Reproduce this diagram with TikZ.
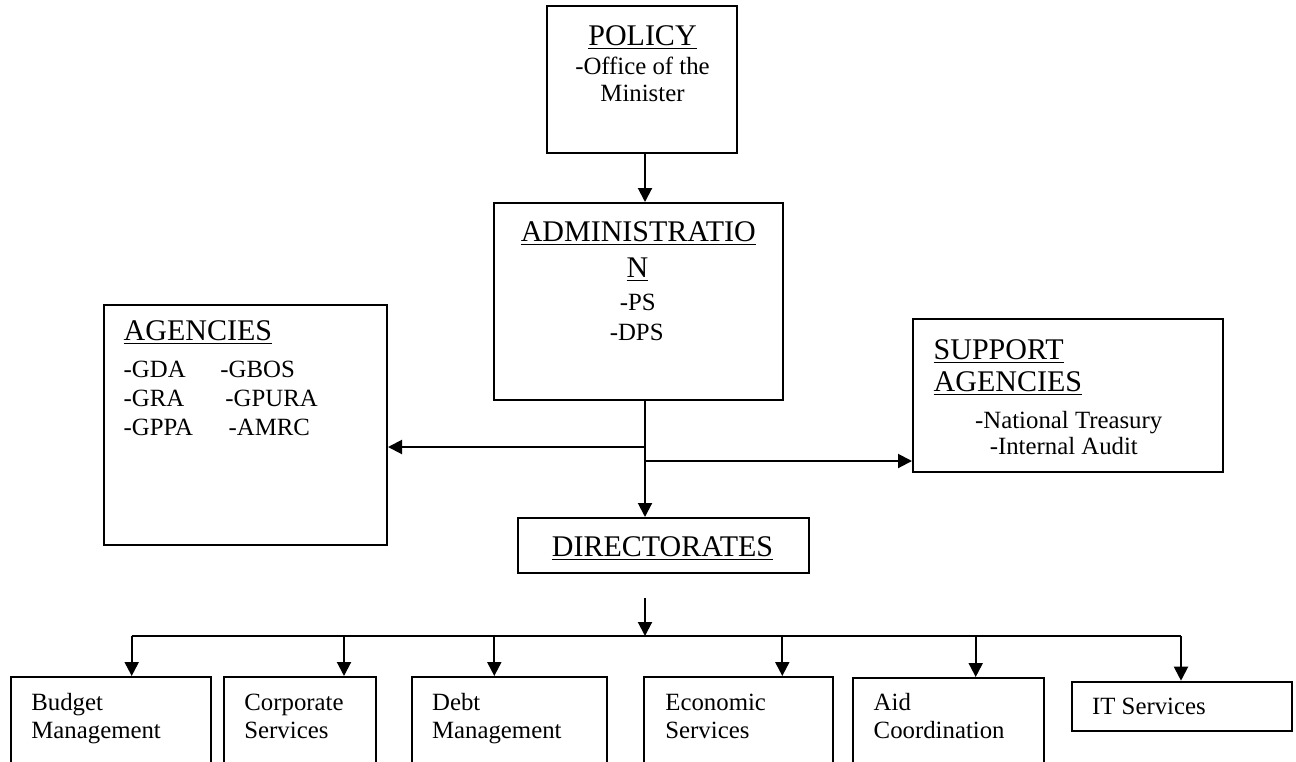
\documentclass[tikz,border=0pt]{standalone}
\usepackage{fontspec}
\setmainfont{Liberation Serif}
\usetikzlibrary{arrows.meta,fit}
\tikzset{
  box/.style={draw, line width=1pt, inner sep=0pt},
  conn/.style={line width=1pt},
  arr/.style={conn, -{Triangle[width=7pt,length=7pt]}},
  body/.style={inner sep=0pt, font=\fontsize{12.4}{14}\selectfont},
  head/.style={inner sep=0pt, font=\fontsize{15}{17}\selectfont},
}
\begin{document}
\begin{tikzpicture}[x=0.5pt,y=-0.5pt]
\useasboundingbox (0,0) rectangle (1296,761);
\clip (0,0) rectangle (1296,761);

% boxes
\node[box, fit={(547,6) (737,153)}] (policy) {};
\node[box, fit={(494,203) (783,400)}] (admin) {};
\node[box, fit={(104,305) (387,545)}] (agencies) {};
\node[box, fit={(913,319) (1223,471.5)}] (support) {};
\node[box, fit={(518,518) (809,573.3)}] (direct) {};
\node[box, fit={(11,677) (211,790)}] (budget) {};
\node[box, fit={(224,677) (376,790)}] (corp) {};
\node[box, fit={(412,677) (607,790)}] (debt) {};
\node[box, fit={(644,677) (833,790)}] (econ) {};
\node[box, fit={(853,678) (1044,790)}] (aid) {};
\node[box, fit={(1072,681.7) (1291.5,730.7)}] (it) {};

% texts
\node[head, anchor=base] (policyH) at (642.5,45) {\underline{POLICY}};
\node[body, anchor=base] (policyT1) at (642.5,74) {-Office of the};
\node[body, anchor=base] (policyT2) at (642.5,101.7) {Minister};

\node[head, anchor=base] (adminH1) at (638.3,241.7) {\underline{ADMINISTRATIO}};
\node[head, anchor=base] (adminH2) at (637.5,277.3) {\underline{N}};
\node[body, anchor=base] (adminT1) at (637.7,310.7) {-PS};
\node[body, anchor=base] (adminT2) at (636.7,340) {-DPS};

\node[head, anchor=base west] (agH) at (123.3,340.7) {\underline{AGENCIES}};
\node[body, anchor=base west] (ag1) at (123.3,377.3) {-GDA};
\node[body, anchor=base west] (ag2) at (220,377.3) {-GBOS};
\node[body, anchor=base west] (ag3) at (123.3,406) {-GRA};
\node[body, anchor=base west] (ag4) at (225,406) {-GPURA};
\node[body, anchor=base west] (ag5) at (123.3,435) {-GPPA};
\node[body, anchor=base west] (ag6) at (228.3,435) {-AMRC};

\node[head, anchor=base west] (supH1) at (933.3,359.3) {\underline{SUPPORT}};
\node[head, anchor=base west] (supH2) at (933.3,391.7) {\underline{AGENCIES}};
\node[body, anchor=base] (sup1) at (1068.7,428.3) {-National Treasury};
\node[body, anchor=base] (sup2) at (1063.8,454) {-Internal Audit};

\node[head, anchor=base] (dirH) at (662.5,556) {\underline{DIRECTORATES}};

\node[body, anchor=base west] (bud1) at (31,710) {Budget};
\node[body, anchor=base west] (bud2) at (31,738) {Management};
\node[body, anchor=base west] (cor1) at (244,710) {Corporate};
\node[body, anchor=base west] (cor2) at (244,738) {Services};
\node[body, anchor=base west] (deb1) at (431.7,710) {Debt};
\node[body, anchor=base west] (deb2) at (431.7,738) {Management};
\node[body, anchor=base west] (eco1) at (665,710) {Economic};
\node[body, anchor=base west] (eco2) at (665,738) {Services};
\node[body, anchor=base west] (aid1) at (873.3,710) {Aid};
\node[body, anchor=base west] (aid2) at (873.3,738) {Coordination};
\node[body, anchor=base west] (itT) at (1091.7,714) {IT Services};

% connector coordinates
\coordinate (cx) at (645,0);
\coordinate (jl) at (645,447);
\coordinate (jr) at (645,461);
\coordinate (dtop) at (645,598.3);
\coordinate (bus) at (645,636);
\coordinate (b1) at (131.7,636);
\coordinate (b2) at (344,636);
\coordinate (b3) at (494.3,636);
\coordinate (b4) at (782.3,636);
\coordinate (b5) at (975.7,636);
\coordinate (b6) at (1181,636);

% connectors
\draw[arr] (policy.south -| cx) -- (admin.north -| cx);
\draw[arr] (admin.south -| cx) -- (direct.north -| cx);
\draw[arr] (jl) -- (agencies.east |- jl);
\draw[arr] (jr) -- (support.west |- jr);
\draw[arr] (dtop) -- (bus);
\draw[conn] (b1) -- (b6);
\draw[arr] (b1) -- (b1 |- budget.north);
\draw[arr] (b2) -- (b2 |- corp.north);
\draw[arr] (b3) -- (b3 |- debt.north);
\draw[arr] (b4) -- (b4 |- econ.north);
\draw[arr] (b5) -- (b5 |- aid.north);
\draw[arr] (b6) -- (b6 |- it.north);
\end{tikzpicture}
\end{document}
